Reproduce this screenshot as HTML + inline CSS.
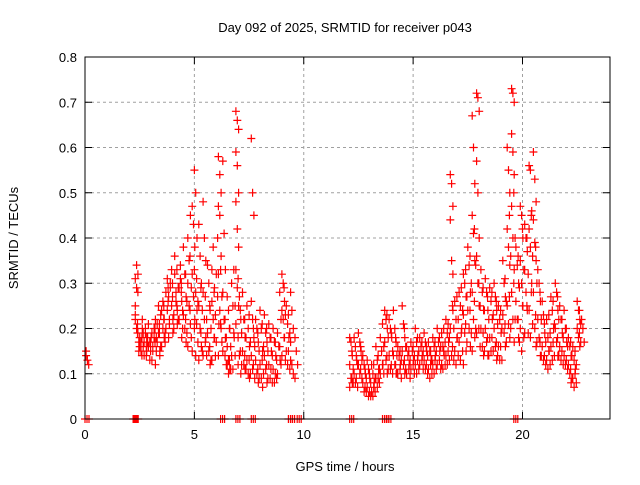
<!DOCTYPE html>
<html><head><meta charset="utf-8"><style>
body{margin:0;background:#fff;width:640px;height:480px;overflow:hidden}
svg text{font-family:"Liberation Sans",sans-serif;font-size:13px;fill:#000}
</style></head><body>
<svg id="chart" width="640" height="480" xmlns="http://www.w3.org/2000/svg">
<text x="345" y="32" text-anchor="middle">Day 092 of 2025, SRMTID for receiver p043</text>
<text x="345" y="471" text-anchor="middle">GPS time / hours</text>
<text transform="translate(18,238) rotate(-90)" text-anchor="middle">SRMTID / TECUs</text>
<g id="grid"></g>
<g id="marks"></g>
<rect x="85" y="57" width="525" height="362" fill="none" stroke="#000" stroke-width="1"/>
<g id="ticks"></g>
</svg>
<script>
const xTicks=[0,5,10,15,20];
const yTicks=[0,0.1,0.2,0.3,0.4,0.5,0.6,0.7,0.8];
const yTickLabels=["0","0.1","0.2","0.3","0.4","0.5","0.6","0.7","0.8"];
const zeroHours=[0,2.2,2.25,6.2,6.9,7.6,9.3,9.4,9.7,12.1,13.6,13.7,13.8,19.6];
const hours=[0.05,2.3,2.5,2.7,2.9,3.1,3.3,3.5,3.7,3.9,4.1,4.3,4.5,4.7,4.9,5.0,5.2,5.4,5.6,5.8,6.0,6.1,6.3,6.5,6.7,6.9,7.0,7.2,7.4,7.6,7.8,8.0,8.2,8.4,8.6,8.8,9.0,9.2,9.4,9.6,
12.1,12.3,12.5,12.7,12.9,13.1,13.3,13.5,13.7,13.9,14.1,14.3,14.5,14.7,14.9,15.1,15.3,15.5,15.7,15.9,16.1,16.3,16.5,16.7,16.9,17.1,17.3,17.5,17.7,17.9,18.1,18.3,18.5,18.7,18.9,19.1,19.3,19.5,19.7,19.9,20.1,20.3,20.5,20.7,20.9,21.1,21.3,21.5,21.7,21.9,22.1,22.3,22.5,22.7];
const tec=[[.15,.13,.12,.14],[.31,.29,.28,.22,.20,.19,.23,.34,.32,.25],[.18,.17,.20,.16,.15,.22],[.17,.19,.15,.14,.20,.18],[.16,.13,.18,.21,.17],[.15,.18,.22,.16,.20,.12],[.17,.19,.15,.21,.25,.14],[.24,.20,.18,.16,.26,.22],[.28,.24,.27,.20,.31,.18],[.30,.25,.22,.29,.33,.19],[.36,.28,.24,.32,.26,.21],[.29,.34,.26,.22,.31,.18],[.38,.32,.27,.23,.20,.17],[.40,.35,.45,.30,.25,.21,.16],[.47,.43,.38,.32,.27,.22,.15],[.55,.50,.40,.33,.28,.24,.20,.14],[.43,.36,.30,.25,.20,.16,.13],[.48,.40,.35,.28,.22,.18,.14],[.34,.30,.24,.19,.15,.12],[.33,.38,.29,.26,.22,.18,.13],[.32,.27,.21,.17,.40],[.58,.54,.50,.47,.45,.36,.32,.24,.20,.14],[.57,.41,.33,.28,.22,.18,.15],[.27,.24,.20,.16,.13,.11,.12,.10],[.30,.25,.18,.14,.11],[.68,.66,.64,.59,.56,.50,.48,.42,.38,.33,.29,.25,.21],[.31,.27,.22,.18,.14,.10,.12],[.28,.22,.18,.15,.12,.11],[.25,.20,.16,.13,.10,.09],[.62,.50,.45,.26,.22,.18,.14,.11],[.22,.20,.17,.13,.10,.08],[.24,.20,.15,.12,.09,.07],[.23,.19,.17,.14,.11,.08],[.21,.18,.15,.12,.09],[.20,.17,.14,.11,.08],[.19,.16,.13,.10],[.32,.30,.26,.24,.22,.18,.14],[.25,.21,.18,.15,.12],[.28,.24,.20,.17,.12,.10,.13],[.18,.15,.12,.09],
[.18,.17,.14,.12,.09,.08,.07],[.18,.16,.13,.10,.08],[.19,.17,.15,.12,.10],[.14,.12,.10,.08,.06],[.13,.11,.09,.07,.05],[.12,.10,.08,.06,.05],[.16,.13,.11,.09,.07],[.18,.15,.12,.10],[.24,.22,.20,.17,.13,.10],[.22,.20,.18,.14,.11],[.24,.20,.17,.14,.12,.10],[.16,.14,.12,.10],[.25,.21,.18,.15,.12,.10],[.16,.14,.12,.10],[.17,.15,.13,.11],[.20,.17,.14,.12,.10],[.18,.16,.14,.12],[.19,.17,.15,.13,.11],[.17,.15,.13,.11,.09],[.18,.16,.14,.12,.10],[.20,.17,.15,.12],[.19,.16,.14,.12,.11],[.22,.19,.17,.14,.12],[.54,.52,.47,.44,.35,.32,.20,.14,.24],[.26,.22,.18,.15,.12],[.28,.25,.20,.17,.13],[.32,.30,.27,.23,.19,.15,.12],[.38,.34,.28,.24,.20,.16],[.67,.60,.52,.45,.41,.35,.28,.22,.18,.15],[.72,.71,.68,.57,.50,.40,.36,.30,.25,.19],[.33,.28,.24,.20,.16,.14],[.31,.28,.24,.20,.17,.14],[.29,.26,.22,.18,.15],[.30,.27,.24,.20,.16,.13],[.25,.22,.19,.16,.13],[.35,.30,.27,.23,.19,.16],[.60,.55,.50,.42,.38,.34,.25,.21,.18],[.73,.72,.70,.63,.59,.54,.47,.40,.33,.28,.22,.17],[.38,.34,.30,.26,.22,.18],[.47,.45,.40,.35,.30,.25,.20,.15],[.43,.40,.37,.33,.28,.24,.19],[.56,.55,.46,.42,.38,.30,.24,.18],[.59,.53,.48,.44,.39,.35,.28,.20,.16],[.33,.30,.26,.22,.18,.14],[.26,.23,.19,.16,.13],[.22,.18,.15,.13,.11],[.27,.24,.20,.16,.13],[.30,.28,.24,.20,.17,.14],[.25,.22,.19,.16,.13],[.24,.20,.17,.14,.12],[.18,.16,.14,.12,.10,.08],[.16,.13,.11,.09,.07],[.26,.24,.22,.20,.18,.16],[.22,.20,.17]];
const hours2=[2.4,2.6,2.8,3.0,3.2,3.4,3.6,3.8,4.0,4.2,4.4,4.6,4.8,5.1,5.3,5.5,5.7,5.9,6.2,6.4,6.6,6.8,7.1,7.3,7.5,7.7,7.9,8.1,8.3,8.5,8.7,8.9,9.1,9.3,
12.2,12.4,12.6,12.8,13.0,13.2,13.4,13.6,13.8,14.0,14.2,14.4,14.6,14.8,15.0,15.2,15.4,15.6,15.8,16.0,16.2,16.4,16.6,16.8,17.0,17.2,17.4,17.6,17.8,18.0,18.2,18.4,18.6,18.8,19.0,19.2,19.4,19.6,19.8,20.0,20.2,20.4,20.6,20.8,21.0,21.2,21.4,21.6,21.8,22.0,22.2,22.4,22.6];
const tec2=[[.19,.17,.21,.15],[.18,.16,.14,.19],[.16,.18,.14,.17],[.15,.19,.17,.13],[.17,.15,.20,.18],[.21,.16,.19,.23],[.22,.19,.25,.17],[.26,.22,.29,.21],[.27,.23,.30,.20],[.25,.29,.33,.22],[.30,.24,.28,.20],[.32,.26,.22,.19],[.36,.29,.24,.18],[.31,.26,.21,.17],[.29,.24,.19,.15],[.27,.22,.17,.14],[.25,.20,.16,.13],[.28,.23,.18,.14],[.33,.27,.21,.17],[.22,.18,.14,.12],[.20,.16,.13,.11],[.33,.25,.19,.14],[.24,.19,.15,.12],[.22,.18,.14,.11],[.23,.17,.13,.10],[.20,.16,.12,.09],[.19,.15,.11,.09],[.21,.16,.13,.10],[.20,.15,.12,.09],[.18,.14,.11,.08],[.17,.13,.10,.09],[.28,.22,.16,.12],[.29,.23,.18,.13],[.23,.19,.15,.11],
[.15,.11,.09,.08],[.14,.12,.09,.07],[.16,.13,.11,.09],[.11,.09,.07,.06],[.10,.08,.06,.05],[.12,.09,.07,.06],[.14,.11,.09,.08],[.21,.16,.12,.10],[.23,.18,.14,.11],[.19,.15,.12,.10],[.18,.14,.12,.10],[.15,.13,.11,.09],[.20,.16,.13,.11],[.15,.13,.11,.09],[.16,.14,.12,.10],[.18,.15,.13,.11],[.17,.15,.13,.11],[.16,.14,.12,.10],[.15,.13,.12,.10],[.17,.15,.13,.11],[.18,.16,.13,.11],[.20,.17,.15,.12],[.21,.18,.15,.13],[.25,.20,.16,.13],[.27,.22,.18,.14],[.29,.24,.19,.15],[.33,.27,.21,.17],[.36,.30,.24,.19],[.42,.34,.26,.20],[.30,.25,.20,.16],[.29,.24,.19,.15],[.27,.22,.18,.14],[.28,.23,.18,.15],[.26,.21,.17,.14],[.24,.20,.16,.13],[.31,.26,.21,.17],[.45,.36,.27,.20],[.50,.40,.30,.22],[.36,.29,.22,.17],[.42,.33,.25,.18],[.40,.32,.25,.19],[.45,.36,.28,.21],[.38,.30,.23,.17],[.28,.22,.17,.14],[.21,.17,.14,.12],[.23,.19,.15,.12],[.26,.21,.17,.14],[.27,.22,.18,.14],[.22,.18,.15,.12],[.20,.16,.13,.11],[.17,.14,.11,.09],[.15,.12,.10,.08],[.24,.21,.19,.17]];

const X0=85,X1=610,Y0=419,Y1=57;
const xs=h=>X0+h/24*(X1-X0);
const ys=v=>Y0-v/0.8*(Y0-Y1);
const NS='http://www.w3.org/2000/svg';
const grid=document.getElementById('grid'),ticks=document.getElementById('ticks'),marks=document.getElementById('marks');
function mk(tag,attrs,parent){const e=document.createElementNS(NS,tag);for(const k in attrs)e.setAttribute(k,attrs[k]);parent.appendChild(e);return e;}
yTicks.forEach((v,i)=>{const y=ys(v);
 if(i>0&&i<yTicks.length-1){const g=mk('line',{x1:X0,x2:X1,y1:y,y2:y,stroke:'#a0a0a0','stroke-dasharray':'3,3'},grid);
 
 }
 const t=mk('path',{d:`M${X0},${y}h7M${X1},${y}h-7`,stroke:'#000'},ticks);
 
 
 const l=mk('text',{x:X0-8,y:y+5,'text-anchor':'end'},ticks);l.textContent=yTickLabels[i];
 
 
});
xTicks.forEach(h=>{const x=xs(h);
 if(h>0){const g=mk('line',{x1:x,x2:x,y1:Y0,y2:Y1,stroke:'#a0a0a0','stroke-dasharray':'3,3'},grid);
 
 }
 const t=mk('path',{d:`M${x},${Y0}v-7M${x},${Y1}v7`,stroke:'#000'},ticks);
 
 
 const l=mk('text',{x:x,y:Y0+20,'text-anchor':'middle'},ticks);l.textContent=String(h);
 
 
});
let d='';
function plus(x,y){d+=`M${(x-4).toFixed(1)},${y.toFixed(1)}h8M${x.toFixed(1)},${(y-4).toFixed(1)}v8`;}
hours.forEach((h,i)=>{tec[i].forEach((v,j)=>plus(xs(h+(j%3)*0.06),ys(v)));});
hours2.forEach((h,i)=>{tec2[i].forEach((v,j)=>plus(xs(h+(j%2)*0.06),ys(v)));});
zeroHours.forEach(h=>{plus(xs(h),ys(0));plus(xs(h)+2,ys(0));plus(xs(h)+4,ys(0));});
const p=mk('path',{d:d,stroke:'#ff0000','stroke-width':'1.2',fill:'none'},marks);


</script>
</body></html>
